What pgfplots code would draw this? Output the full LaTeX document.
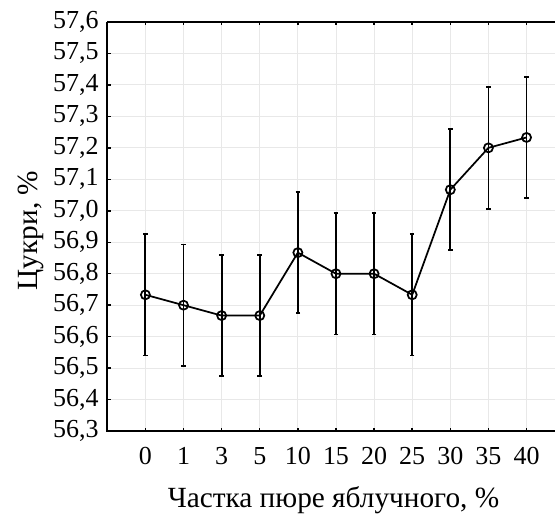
\documentclass[border=0pt]{standalone}
\usepackage{fontspec}
\setmainfont{Liberation Serif}
\usepackage{pgfplots}
\usepackage{pgfplotstable}
\pgfplotsset{compat=1.18}

% mean sugar content and error half-width, categories at 0..10
\pgfplotstableread{
x  y       err
0  56.733  0.193
1  56.700  0.193
2  56.667  0.193
3  56.667  0.193
4  56.867  0.193
5  56.800  0.193
6  56.800  0.193
7  56.733  0.193
8  57.067  0.193
9  57.200  0.193
10 57.233  0.193
}\sugar

\begin{document}
\begin{tikzpicture}
\begin{axis}[
    name=ax,
    width=336.4pt, height=307.3pt, scale only axis,
    xmin=-1, xmax=10.75,
    ymin=56.3, ymax=57.6,
    xtick={0,1,2,3,4,5,6,7,8,9,10},
    xticklabels={0,1,3,5,10,15,20,25,30,35,40},
    ytick={56.3,56.4,56.5,56.6,56.7,56.8,56.9,57.0,57.1,57.2,57.3,57.4,57.5,57.6},
    grid=major,
    grid style={line width=0.7pt, draw=black!9},
    separate axis lines,
    axis line style={draw=none},
    tick align=inside,
    xtick pos=both, ytick pos=left,
    major tick length=2.5pt,
    tick style={black, line width=1.1pt},
    tick label style={font=\fontsize{19.5}{22}\selectfont},
    yticklabel style={xshift=-3pt, /pgf/number format/.cd, fixed, fixed zerofill, precision=1, use comma, assume math mode=true},
    xticklabel style={anchor=base, yshift=-25pt},
    label style={font=\fontsize{22}{24}\selectfont},
    xlabel={Частка пюре яблучного, \%},
    ylabel={Цукри, \%},
    xlabel style={at={(axis description cs:0.505,-0.186)}, anchor=base},
    ylabel style={at={(axis description cs:-0.17,0.49)}, anchor=center},
    clip=false,
]
\draw[line width=1.3pt] (rel axis cs:0,1) -- (rel axis cs:0,0) -- (rel axis cs:1,0);
\draw[line width=1.3pt] (rel axis cs:0,1) -- (rel axis cs:1,1);

\addplot[black, line width=1.3pt, mark=o, mark size=3.4pt,
    mark options={line width=1.3pt},
    error bars/.cd, y dir=both, y explicit,
    error bar style={line width=1.4pt},
    error mark options={rotate=90, mark size=1.7pt, line width=1.4pt}]
    table[x=x, y=y, y error=err] {\sugar};
\end{axis}
\path (ax.north west) ++(0,16.5pt);
\path (ax.south west) ++(-80.6pt,-64pt);
\end{tikzpicture}
\end{document}
